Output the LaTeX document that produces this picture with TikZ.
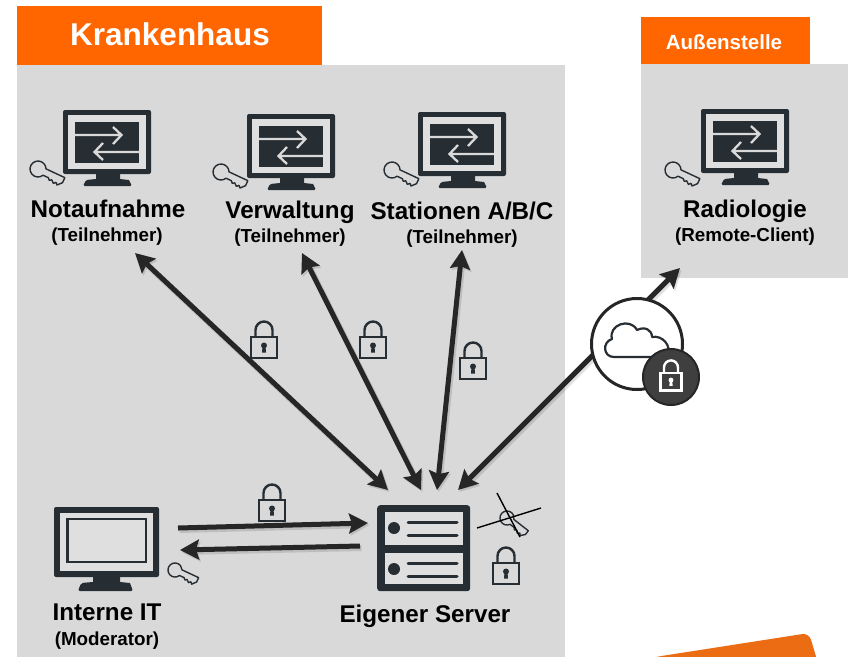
\documentclass[tikz,border=0pt]{standalone}
\usepackage{fontspec}
\setmainfont{Liberation Sans}
\usetikzlibrary{arrows.meta}
\definecolor{panel}{HTML}{D9D9D9}
\definecolor{orangehead}{HTML}{FF6600}
\definecolor{orangefoot}{HTML}{EC6C14}
\definecolor{icon}{HTML}{262E34}
\definecolor{arrowc}{HTML}{262626}
\definecolor{badge}{HTML}{3F3F3F}
\tikzset{
  x=1pt,y=-1pt,
  conn/.style={draw=arrowc,line width=5pt,
    preaction={draw=black,opacity=.12,line width=6pt,transform canvas={xshift=1.5pt,yshift=-2pt}}},
  tipped/.style={conn,-{Stealth[length=19pt,width=20pt,inset=3pt]}},
  both/.style={conn,{Stealth[length=19pt,width=20pt,inset=3pt]}-{Stealth[length=19pt,width=20pt,inset=3pt]}},
  title/.style={font=\bfseries\fontsize{24.2}{24.2}\selectfont,anchor=base,text=black,inner sep=0pt},
  role/.style={font=\bfseries\fontsize{18.8}{18.8}\selectfont,anchor=base,text=black,inner sep=0pt},
  monitor/.pic={
    \fill[icon,rounded corners=2pt] (0,0) rectangle (88,64);
    \fill[panel!85!white] (5,5) rectangle (83,59);
    \fill[icon] (12,12) rectangle (76,53);
    \draw[panel,line width=2.3pt] (12,25) -- (58,25) (50,17) -- (58.5,25) -- (50,34);
    \draw[panel,line width=2.3pt] (76,42) -- (32,42) (40,33) -- (31.5,42) -- (40,50);
    \fill[icon] (33,64) -- (57,64) -- (57,69) -- (66,70) [rounded corners=1.5pt] -- (69,76) -- (20,76) -- (23,70) [sharp corners] -- (33,69) -- cycle;
  },
  bigmonitor/.pic={
    \fill[icon,rounded corners=2pt] (0,0) rectangle (105,70);
    \fill[panel!85!white] (6,6) rectangle (99,64);
    \draw[icon,line width=2.6pt,fill=panel!85!white] (13.5,12) rectangle (92,55);
    \fill[icon] (39,70) -- (66,70) -- (66,75) -- (76,76) [rounded corners=2pt] -- (79,84) -- (24,84) -- (27,76) [sharp corners] -- (39,75) -- cycle;
  },
  keyicon/.pic={
    \draw[icon,line width=1.4pt,line join=round] (7.2,3.5) arc[start angle=26,end angle=334,radius=8]
      -- (28,-3.5) -- (28,2) -- (24,6.5) -- (22,4.5) -- (20,6.5) -- (17,4) -- (15,5.5) -- (13,3.5) -- cycle;
  },
  lockicon/.pic={
    \draw[line width=2.4pt] (-13,16) rectangle (13,37);
    \draw[line width=2.4pt] (-8.5,16) -- (-8.5,9) arc[start angle=180,end angle=360,radius=8.5] -- (8.5,16);
    \fill (0,24.5) circle[radius=3];
    \fill (-1.5,25) -- (1.5,25) -- (2,31.5) -- (-2,31.5) -- cycle;
  },
}
\begin{document}
\begin{tikzpicture}
\useasboundingbox (0,0) rectangle (848,657);
\fill[white] (0,0) rectangle (848,657);
% panels
\fill[panel] (17,65) rectangle (565,657);
\fill[panel] (641,64) rectangle (848,278);
\node[fill=orangehead,minimum width=305pt,minimum height=59pt,anchor=north west,inner sep=0pt] (kh) at (17,6) {};
\node[anchor=base,inner sep=0pt,text=white,font=\bfseries\fontsize{31.5}{32}\selectfont] (khtext) at (170,45) {Krankenhaus};
\node[fill=orangehead,minimum width=169pt,minimum height=47pt,anchor=north west,inner sep=0pt] (as) at (641,17) {};
\node[anchor=base,inner sep=0pt,text=white,font=\bfseries\fontsize{20.5}{20.5}\selectfont] (astext) at (724,49) {Außenstelle};
\fill[orangefoot,rounded corners=7pt] (655,657) -- (620,670) -- (820,670) -- (809,633) -- cycle;
\fill[white] (600,657) rectangle (848,680);
% monitors
\pic at (63,110) {monitor};
\pic at (247,114) {monitor};
\pic at (418,112) {monitor};
\pic at (701,109) {monitor};
\pic at (54,507) {bigmonitor};
% keys
\pic[rotate=-25] at (38,169) {keyicon};
\pic[rotate=-25] at (221,172) {keyicon};
\pic[rotate=-25] at (392,170) {keyicon};
\pic[rotate=-25] at (673,170) {keyicon};
\pic[rotate=-25,scale=.88] at (175,570) {keyicon};
\pic[rotate=-38,scale=.88] at (507,518) {keyicon};
% crossing strokes over the server key
\draw[black,line width=1.4pt] (497,493) -- (520,537);
\draw[black,line width=1.4pt] (477,528) -- (541,508);
% labels
\node[title] (n1) at (108,217) {Notaufnahme};
\node[role] (r1) at (107,241) {(Teilnehmer)};
\node[title] (n2) at (290,218) {Verwaltung};
\node[role] (r2) at (290,242) {(Teilnehmer)};
\node[title] (n3) at (462,219) {Stationen A/B/C};
\node[role] (r3) at (462,243) {(Teilnehmer)};
\node[title] (n4) at (745,217) {Radiologie};
\node[role] (r4) at (745,241) {(Remote-Client)};
\node[title] (n5) at (107,620) {Interne IT};
\node[role] (r5) at (107,645) {(Moderator)};
\node[title] (n6) at (425,622) {Eigener Server};
% server
\node[fill=icon,rounded corners=3pt,minimum width=93pt,minimum height=86pt,anchor=north west,inner sep=0pt] (srv) at (377,505) {};
\fill[panel!85!white] (385,512) rectangle (463,545);
\fill[panel!85!white] (385,553) rectangle (463,584);
\fill[icon] (394,528) circle[radius=6] (394,569) circle[radius=6];
\draw[icon,line width=3pt,line cap=round] (408,522) -- (457,522) (408,535) -- (457,535) (408,563) -- (457,563) (408,576) -- (457,576);
% connector end points
\coordinate (a1) at (135,253);
\coordinate (b1) at (388,490);
\coordinate (a2) at (302,253);
\coordinate (b2) at (421,490);
\coordinate (a3) at (462,250);
\coordinate (b3) at (437,490);
\coordinate (a4) at (680,268);
\coordinate (b4) at (458,490);
\coordinate (it1) at (178,528);
\coordinate (s1) at (368,523);
\coordinate (s2) at (360,546);
\coordinate (it2) at (180,550);
% connectors
\draw[both] (a1) -- (b1);
\draw[both] (a2) -- (b2);
\draw[both] (a3) -- (b3);
\draw[both] (a4) -- (b4);
\draw[tipped] (it1) -- (s1);
\draw[tipped] (s2) -- (it2);
% locks
\pic[color=icon] at (264,321) {lockicon};
\pic[color=icon] at (373,321) {lockicon};
\pic[color=icon] at (473,342) {lockicon};
\pic[color=icon] at (272,484) {lockicon};
\pic[color=icon] at (506,547) {lockicon};
% cloud badge
\node[circle,draw=arrowc,line width=3pt,fill=white,minimum size=91pt,inner sep=0pt] (cl) at (637,344) {};
\draw[icon,line width=2.2pt,line join=round] (614,357)
  .. controls (603,357) and (602,342) .. (612,339)
  .. controls (608,325) and (630,317) .. (637,330)
  .. controls (645,326) and (652,330) .. (652,337)
  .. controls (662,335) and (672,345) .. (668,357) -- cycle;
\node[circle,draw=arrowc,line width=2pt,fill=badge,minimum size=56pt,inner sep=0pt] (bd) at (671,377) {};
\pic[color=white,scale=.82] at (671,360) {lockicon};
\end{tikzpicture}
\end{document}
